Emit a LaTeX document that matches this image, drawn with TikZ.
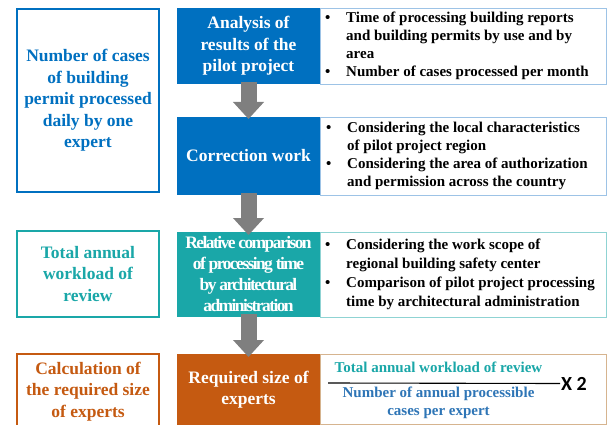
\documentclass[tikz,border=0pt]{standalone}
\usepackage{fontspec}
\setmainfont{Liberation Serif}
\newfontfamily\condserif[LetterSpace=-9,BoldFont={Liberation Serif Bold}]{Liberation Serif}
\newfontfamily\xfont[BoldFont={Carlito Bold}]{Carlito}
\usetikzlibrary{arrows.meta}
\definecolor{blueC}{HTML}{0070C0}
\definecolor{tealC}{HTML}{1AA7A8}
\definecolor{orangeC}{HTML}{C55A11}
\definecolor{arrowgray}{HTML}{7F7F7F}
\definecolor{noteblue}{HTML}{9DC3E6}
\definecolor{noteteal}{HTML}{8FD3D3}
\definecolor{notetan}{HTML}{D6B48F}
\definecolor{denomblue}{HTML}{2E75B6}
\newcommand{\titlefont}{\bfseries\fontsize{17.5}{21.5}\selectfont}
\newcommand{\notefont}{\bfseries\fontsize{15}{18.2}\selectfont}
\newcommand{\bul}{\makebox[21pt][l]{\textbullet}}
\newcommand{\ind}{\hspace*{21pt}}
\begin{document}
\begin{tikzpicture}[x=1pt,y=-1pt]
\tikzset{
  base/.style={inner sep=0pt, outer sep=0pt, anchor=north west},
  leftbox/.style={base, draw=#1, line width=2.4pt, fill=white, text=#1, align=center, font=\titlefont},
  fillbox/.style={base, fill=#1, text=white, align=center, font=\titlefont},
  notebox/.style={base, draw=#1, line width=0.9pt, fill=white},
  notetext/.style={anchor=west, inner sep=0pt, align=left, font=\notefont},
  blockarrow/.style={draw=arrowgray, line width=16pt, -{Triangle[width=30pt,length=17pt]}}
}
\useasboundingbox (0,0) rectangle (613,425);
% left boxes
\node[leftbox=blueC, minimum width=142pt, minimum height=183pt] (L1) at (17,9)
  {Number of cases\\of building\\permit processed\\daily by one\\expert};
\node[leftbox=tealC, minimum width=142pt, minimum height=86pt] (L2) at (17,231)
  {Total annual\\workload of\\review};
\node[leftbox=orangeC, minimum width=142pt, minimum height=75pt] (L3) at (17,354)
  {Calculation of\\the required size\\of experts};
% filled boxes
\node[fillbox=blueC, minimum width=143pt, minimum height=76pt] (B1) at (177,8)
  {Analysis of\\results of the\\pilot project};
\node[fillbox=blueC, minimum width=143pt, minimum height=78pt] (B2) at (177,117)
  {Correction work};
\node[fillbox=tealC, minimum width=143pt, minimum height=85pt, font=\condserif\bfseries\fontsize{17.5}{21}\selectfont] (B3) at (177,232)
  {Relative comparison\\of processing time\\by architectural\\administration};
\node[fillbox=orangeC, minimum width=143pt, minimum height=71pt] (B4) at (177,354)
  {Required size of\\experts};
% note boxes
\node[notebox=noteblue, minimum width=286pt, minimum height=76pt] (W1) at (320,8) {};
\node[notebox=noteblue, minimum width=286pt, minimum height=78pt] (W2) at (320,117) {};
\node[notebox=noteteal, minimum width=286pt, minimum height=85pt] (W3) at (320,232) {};
\node[notebox=notetan, minimum width=286pt, minimum height=70pt] (W4) at (320,354) {};
% note texts
\node[notetext] (T1) at ([xshift=5pt,yshift=0pt]W1.west)
  {\bul Time of processing building reports\\\ind and building permits by use and by\\\ind area\\\bul Number of cases processed per month};
\node[notetext] (T2) at ([xshift=6pt]W2.west)
  {\bul Considering the local characteristics\\\ind of pilot project region\\\bul Considering the area of authorization\\\ind and permission across the country};
\node[notetext, font=\bfseries\fontsize{15}{19}\selectfont] (T3) at ([xshift=5pt]W3.west)
  {\bul Considering the work scope of\\\ind regional building safety center\\\bul Comparison of pilot project processing\\\ind time by architectural administration};
% fraction
\node[inner sep=0pt, font=\notefont, text=tealC] (num) at (438.5,367) {Total annual workload of review};
\node[inner sep=0pt, align=center, font=\notefont, text=denomblue] (den) at (438.5,403) {Number of annual processible\\cases per expert};
\coordinate (fl) at (328,383);
\node[anchor=west, inner sep=1pt, font=\xfont\bfseries\fontsize{20}{22}\selectfont] (X2) at (560,383.5) {X 2};
\draw[line width=1.1pt] (fl) -- (X2.west);
% arrows
\draw[blockarrow] ([yshift=2pt]B1.south) -- ([yshift=-2pt]B2.north);
\draw[blockarrow] ([yshift=2pt]B2.south) -- ([yshift=-3pt]B3.north);
\draw[blockarrow] ([yshift=3pt]B3.south) -- ([yshift=-3pt]B4.north);
\end{tikzpicture}
\end{document}
